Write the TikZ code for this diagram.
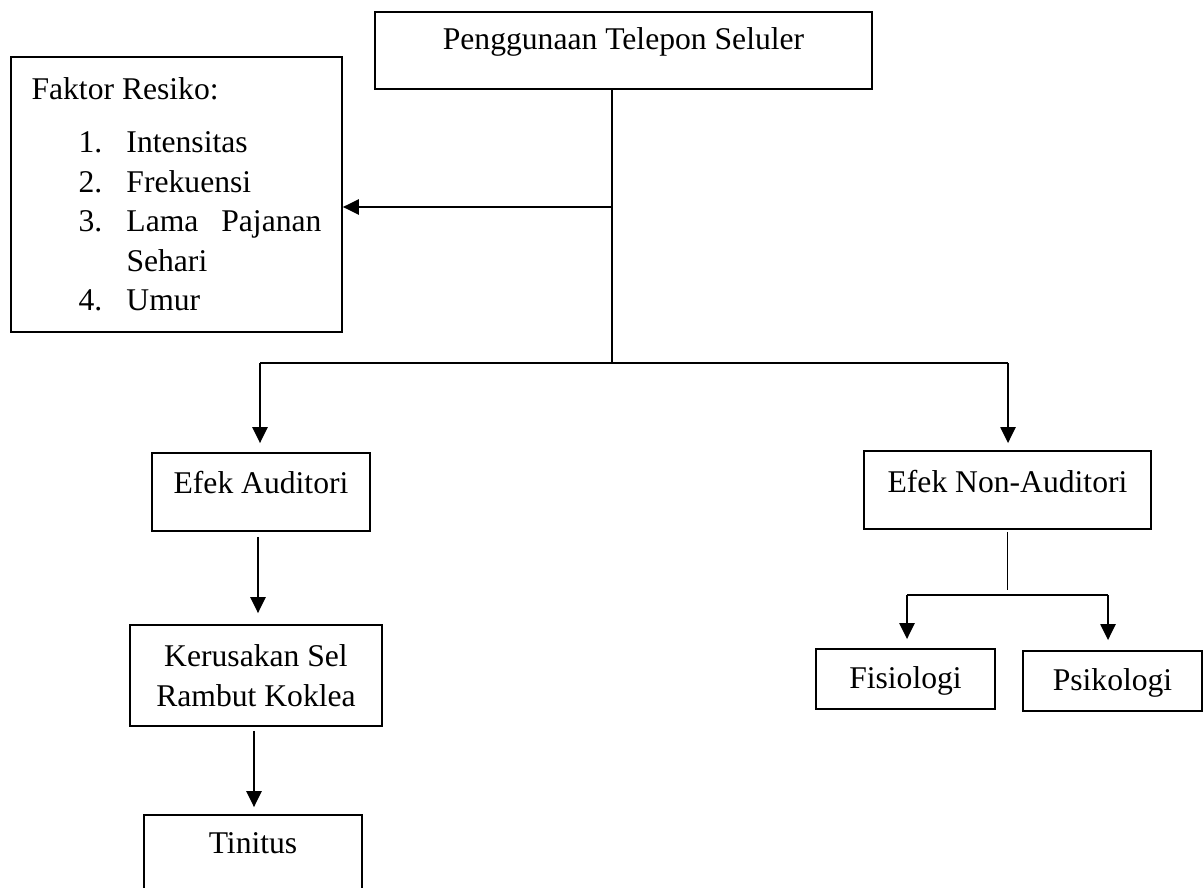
\documentclass[tikz,border=0pt]{standalone}
\usepackage{fontspec}
\setmainfont{Liberation Serif}
\usetikzlibrary{arrows.meta}

\begin{document}
\begin{tikzpicture}[x=0.02cm, y=-0.02cm,
        box/.style={draw, line width=1pt, inner sep=0pt, font=\fontsize{18}{22.5}\selectfont},
        arr/.style={-{Triangle[width=0.3cm,length=0.32cm]}, line width=1.3pt},
        wire/.style={line width=0.7pt}]
        \useasboundingbox (0,0) rectangle (1203,888);
        \clip (0,0) rectangle (1203,888);

        % Nodes
        \node[box, minimum width=9.94cm, text height=0.76cm, text depth=0.78cm] (hp) at (623.5,50.5) {Penggunaan Telepon Seluler};
        \node[box, minimum width=6.62cm, minimum height=5.5cm, align=left] (faktor) at (176.5,194.5) {Faktor Resiko:\\[0.27cm]
            \hspace*{0.94cm}\makebox[0.96cm][l]{1.}Intensitas\\
            \hspace*{0.94cm}\makebox[0.96cm][l]{2.}Frekuensi\\
            \hspace*{0.94cm}\makebox[0.96cm][l]{3.}\makebox[3.9cm][s]{Lama\hfill Pajanan}\\
            \hspace*{1.9cm}Sehari\\
            \hspace*{0.94cm}\makebox[0.96cm][l]{4.}Umur};
        \node[box, minimum width=4.36cm, text height=0.8cm, text depth=0.76cm] (aud) at (261,492) {Efek Auditori};
        \node[box, minimum width=5.74cm, text height=0.82cm, text depth=0.74cm] (nonaud) at (1007.5,490) {Efek Non-Auditori};
        \node[box, minimum width=5.04cm, minimum height=2.02cm, align=center] (ker) at (256,675.5) {Kerusakan Sel\\Rambut Koklea};
        \node[box, minimum width=4.36cm, text height=0.76cm, text depth=1.2cm] (tin) at (253,864) {Tinitus};
        \node[box, minimum width=3.58cm, text height=0.78cm, text depth=0.42cm] (fis) at (905.5,679) {Fisiologi};
        \node[box, minimum width=3.58cm, text height=0.78cm, text depth=0.42cm] (psi) at (1112.5,681) {Psikologi};

        % Joints
        \coordinate (tap) at (612,207);
        \coordinate (split) at (612,363);
        \coordinate (lft) at (260,363);
        \coordinate (rgt) at (1008,363);
        \coordinate (fl) at (907,595);
        \coordinate (fr) at (1108,595);

        % Edges
        \draw[wire] (hp.south -| split) -- (split);
        \draw[arr] (tap) -- (tap -| faktor.east);
        \draw[wire] (lft) -- (rgt);
        \draw[arr, shorten >=0.18cm] (lft) -- (lft |- aud.north);
        \draw[arr, shorten >=0.14cm] (rgt) -- (rgt |- nonaud.north);
        \draw[arr, shorten <=0.1cm, shorten >=0.22cm] ([xshift=-0.06cm]aud.south) -- ([xshift=-0.06cm]aud.south |- ker.north);
        \draw[arr, shorten <=0.08cm, shorten >=0.14cm] ([xshift=-0.04cm]ker.south) -- ([xshift=-0.04cm]ker.south |- tin.north);
        \draw[wire, shorten <=0.04cm, shorten >=0.1cm] (nonaud.south) -- (nonaud.south |- fl);
        \draw[wire] (fl) -- (fr);
        \draw[arr, shorten >=0.18cm] (fl) -- (fl |- fis.north);
        \draw[arr, shorten >=0.2cm] (fr) -- (fr |- psi.north);
    \end{tikzpicture}
\end{document}
